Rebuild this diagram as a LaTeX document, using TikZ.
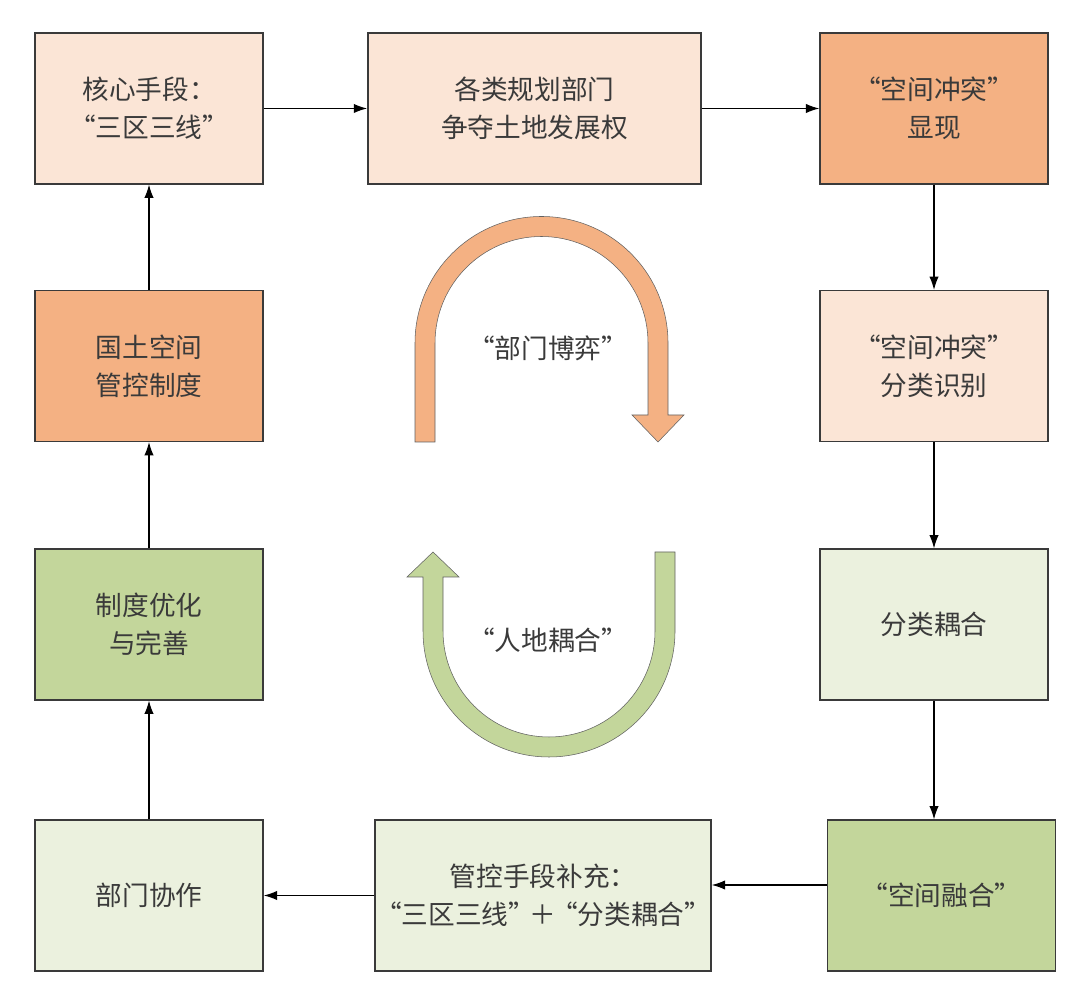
\documentclass[tikz,border=0pt]{standalone}
\usepackage{fontspec}
\newfontfamily\cjk{Noto Sans CJK SC}
\usetikzlibrary{arrows.meta}
\definecolor{peach}{HTML}{FBE5D6}
\definecolor{apricot}{HTML}{F4B183}
\definecolor{sage}{HTML}{EBF1DE}
\definecolor{olive}{HTML}{C3D69B}
\definecolor{ink}{HTML}{3A3A3A}
\begin{document}
\begin{tikzpicture}[x=0.75pt,y=0.75pt,
  box/.style={draw=ink,line width=1.1pt,minimum width=171pt,minimum height=113pt,
    align=center,text=ink,font=\cjk\fontsize{20}{28.5}\selectfont},
  wide/.style={box,minimum width=250pt,inner xsep=0pt},
  flow/.style={-{Latex[length=10pt,width=7pt]},line width=0.9pt,draw=black},
  ulabel/.style={text=ink,font=\cjk\fontsize{20}{28.5}\selectfont}]
 \useasboundingbox (0,0) rectangle (1080,1005);
 % top row
 \node[box,fill=peach] (core) at (149,896.5) {核心手段：\\“三区三线”};
 \node[wide,fill=peach] (dept) at (534.5,896.5) {各类规划部门\\争夺土地发展权};
 \node[box,fill=apricot] (clash) at (934,896.5) {“空间冲突”\\显现};
 % middle rows
 \node[box,fill=apricot] (system) at (149,639) {国土空间\\管控制度};
 \node[box,fill=peach] (sort) at (934,639) {“空间冲突”\\分类识别};
 \node[box,fill=olive] (optim) at (149,380.5) {制度优化\\与完善};
 \node[box,fill=sage] (couple) at (934,380.5) {分类耦合};
 % bottom row
 \node[box,fill=sage] (coop) at (149,109.5) {部门协作};
 \node[wide,fill=sage] (means) at (543,109.5) {管控手段补充：\\“三区三线”\kern-4pt＋\kern-4pt“分类耦合”};
 \node[box,fill=olive] (fuse) at (941.5,109.5) {“空间融合”};
 % connectors
 \draw[flow] (core) -- (dept);
 \draw[flow] (dept) -- (clash);
 \draw[flow] (clash) -- (sort);
 \draw[flow] (sort) -- (couple);
 \draw[flow] (couple.south) -- (couple.south |- fuse.north);
 \draw[flow] (fuse.west |- 0,120) -- (means.east |- 0,120);
 \draw[flow] (means) -- (coop);
 \draw[flow] (coop) -- (optim);
 \draw[flow] (optim) -- (system);
 \draw[flow] (system) -- (core);
 % the two U-turn arrows
 \filldraw[fill=apricot,draw=ink!80,line width=0.4pt] (415,563) -- (415,662)
  arc[start angle=180,end angle=0,radius=126.5] -- (668,590) -- (684,590)
  -- (658,563) -- (632,590) -- (648,590) -- (648,662)
  arc[start angle=0,end angle=180,radius=106.5] -- (435,563) -- cycle;
 \node[ulabel] (game) at (548,657) {“部门博弈”};
 \filldraw[fill=olive,draw=ink!80,line width=0.4pt] (675,453) -- (675,374)
  arc[start angle=0,end angle=-180,radius=126] -- (423,428) -- (407,428)
  -- (433,453) -- (459,428) -- (443,428) -- (443,374)
  arc[start angle=180,end angle=360,radius=106] -- (655,453) -- cycle;
 \node[ulabel] (land) at (548,365) {“人地耦合”};
\end{tikzpicture}
\end{document}
